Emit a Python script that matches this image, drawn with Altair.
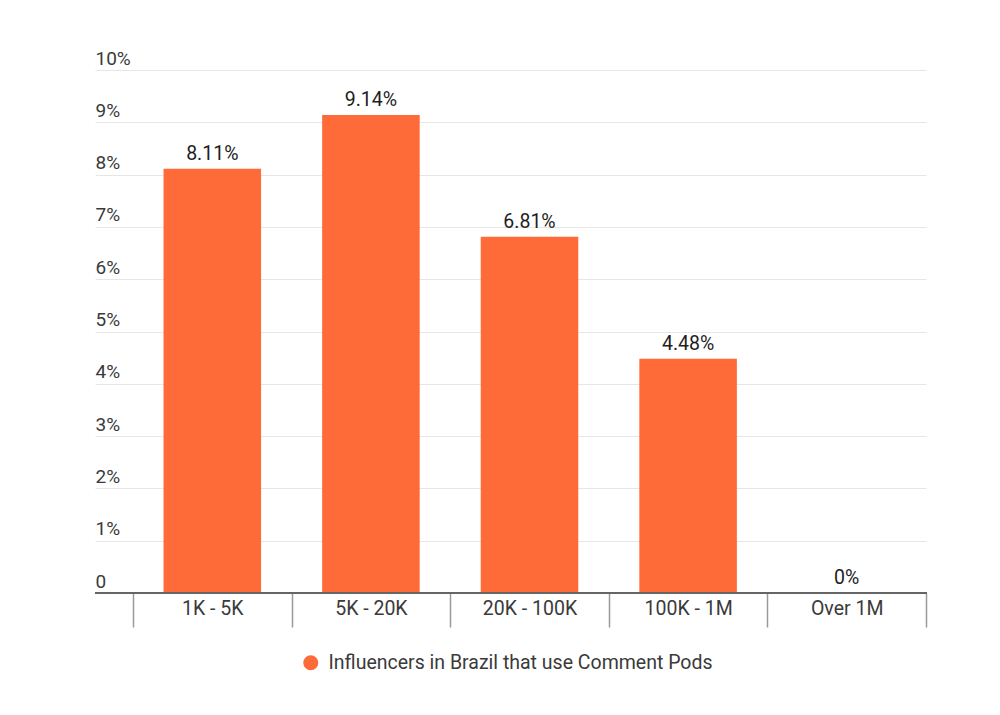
import pandas as pd
import altair as alt

# data
groups = ["1K - 5K", "5K - 20K", "20K - 100K", "100K - 1M", "Over 1M"]
share = [8.11, 9.14, 6.81, 4.48, 0]
series = "Influencers in Brazil that use Comment Pods"

dat = pd.DataFrame({"group": groups, "share": share, "series": series})
dat["label"] = [f"{v:g}%" for v in dat.share]

W, H = 793, 523
orange = "#FF6A39"
font = "Roboto"
grey = "#3a3a3a"

x = alt.X("group:N", sort=groups, title=None,
          scale=alt.Scale(paddingInner=0, paddingOuter=0),
          axis=alt.Axis(domain=False, tickBand="extent", tickSize=34,
                        tickColor="#999999", tickWidth=1.5,
                        labelPadding=-28, labelAngle=0, labelBaseline="top",
                        labelFontSize=19.5, labelColor=grey, labelFont=font))
y = alt.Y("share:Q", title=None,
          scale=alt.Scale(domain=[0, 10], nice=False),
          axis=alt.Axis(values=list(range(11)), domain=False,
                        tickSize=38, tickColor="#e6e6e6", gridColor="#e6e6e6",
                        labelAlign="left", labelPadding=0,
                        labelBaseline="alphabetic", labelOffset=-6,
                        labelExpr="datum.value == 0 ? '0' : datum.value + '%'",
                        labelFontSize=19, labelColor=grey, labelFont=font))

bars = alt.Chart(dat).mark_bar(width=alt.RelativeBandSize(0.615)).encode(
    x=x, y=y,
    color=alt.Color("series:N", scale=alt.Scale(range=[orange]),
                    legend=alt.Legend(title=None, orient="none", legendX=168,
                                      legendY=583, symbolType="circle",
                                      symbolSize=225, symbolStrokeWidth=0,
                                      labelOffset=8, labelFontSize=19.5,
                                      labelLimit=700,
                                      labelColor=grey, labelFont=font,
                                      padding=0)))

text = alt.Chart(dat).mark_text(baseline="bottom", dy=-5, fontSize=19.5,
                                font=font, color="#1e1e1e").encode(
    x=alt.X("group:N", sort=groups), y="share:Q", text="label:N")

base = alt.Chart(dat).mark_rule(color="#666666", strokeWidth=1.5).encode(
    y=alt.datum(0), x=alt.value(-38), x2=alt.value(W + 1))

chart = (alt.layer(bars, text, base)
         .properties(width=W, height=H,
                     autosize=alt.AutoSizeParams(type="none"),
                     padding={"left": 125, "top": 62, "right": 60, "bottom": 120})
         .configure_view(stroke=None))

chart.save("out.html", embed_options={"renderer": "svg", "actions": False})
